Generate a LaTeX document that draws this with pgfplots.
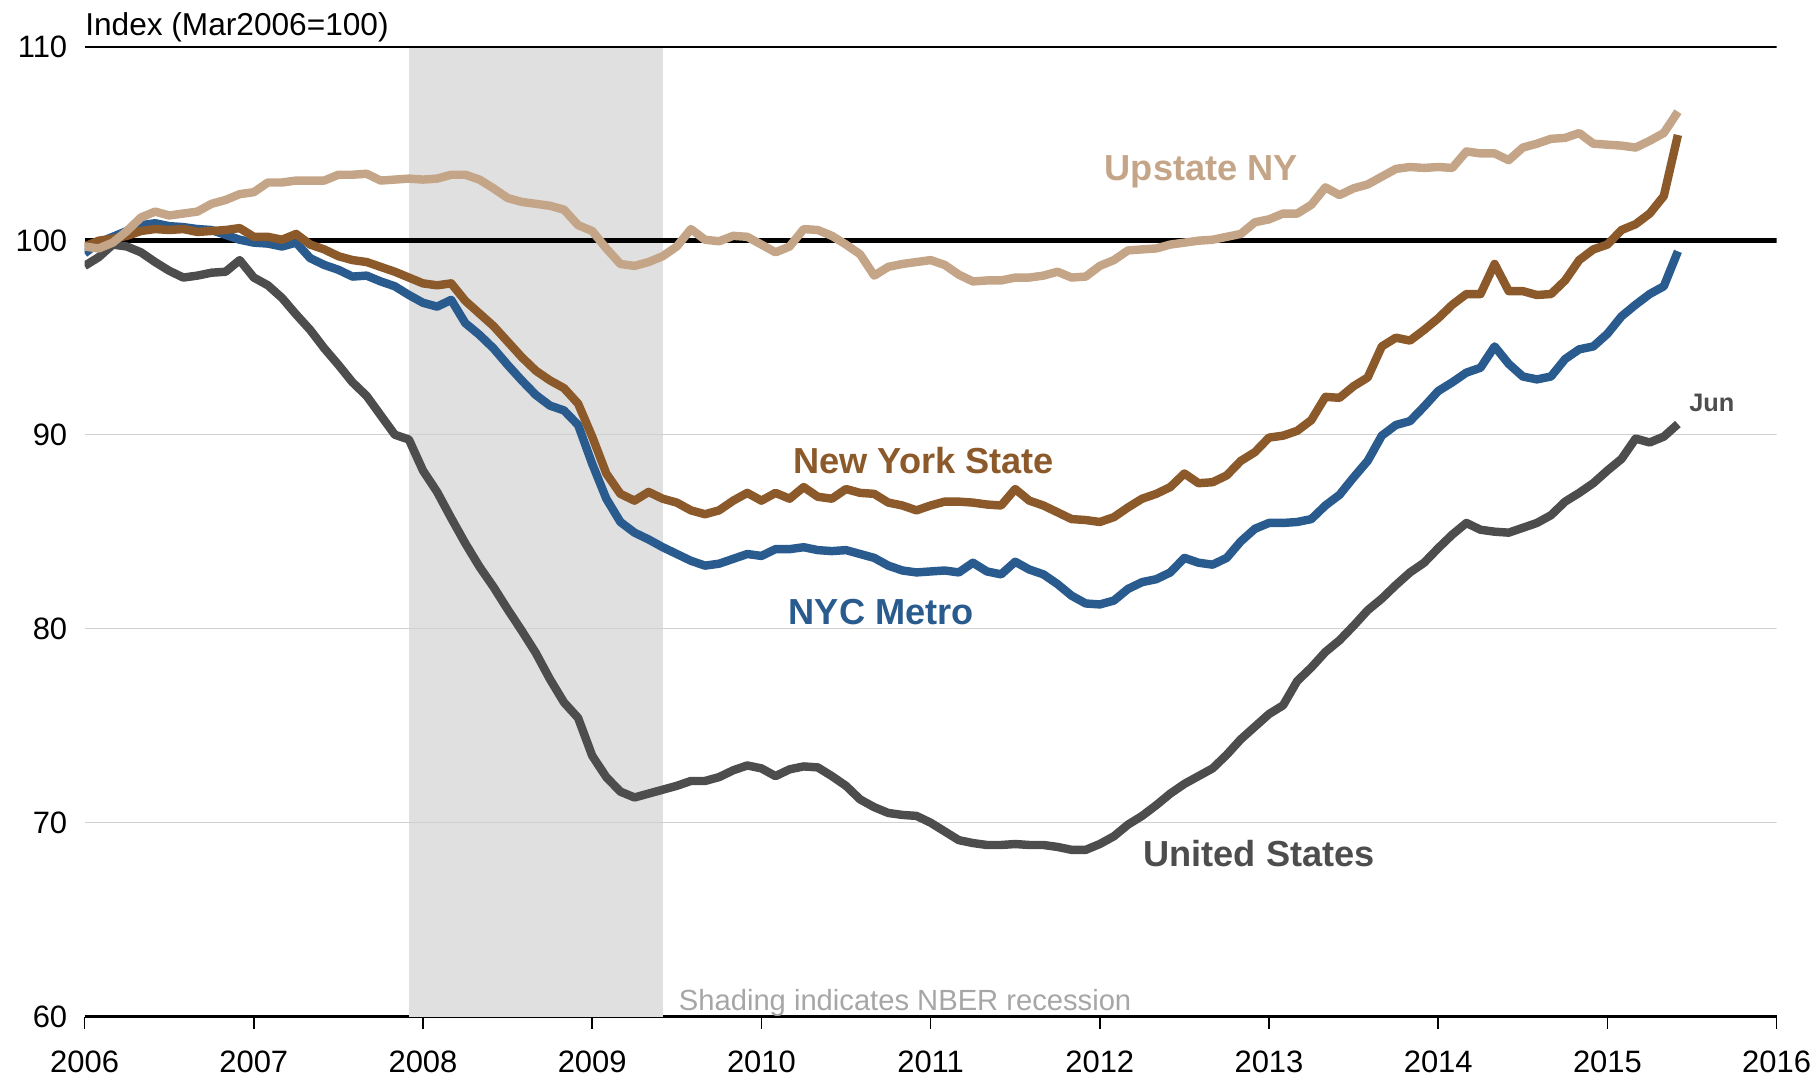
\documentclass[border=0pt]{standalone}
\usepackage{pgfplots}
\pgfplotsset{compat=1.18}
\usepackage{pgfplotstable}
\usepackage{fontspec}
\setmainfont{Liberation Sans}
\definecolor{tanc}{RGB}{196,165,135}
\definecolor{brownc}{RGB}{140,90,42}
\definecolor{bluec}{RGB}{42,91,142}
\definecolor{grayc}{RGB}{77,77,77}
\definecolor{shadec}{RGB}{224,224,224}
\definecolor{shadetext}{RGB}{166,166,166}
\definecolor{gridc}{RGB}{208,208,208}

\pgfplotstableread{
m up nys nyc us
0 99.7 99.7 99.35 98.7
1 99.6 100.0 99.9 99.15
2 99.9 100.1 100.2 99.8
3 100.5 100.25 100.5 99.7
4 101.2 100.5 100.8 99.4
5 101.5 100.6 100.9 98.9
6 101.3 100.55 100.75 98.45
7 101.4 100.6 100.7 98.1
8 101.5 100.45 100.6 98.2
9 101.9 100.5 100.55 98.35
10 102.1 100.55 100.3 98.4
11 102.4 100.65 100.05 99.0
12 102.5 100.2 99.9 98.1
13 103.0 100.2 99.85 97.7
14 103.0 100.05 99.7 97.05
15 103.1 100.35 99.9 96.2
16 103.1 99.8 99.1 95.4
17 103.1 99.55 98.75 94.45
18 103.4 99.2 98.5 93.6
19 103.4 99.0 98.15 92.7
20 103.45 98.9 98.2 92.0
21 103.1 98.65 97.9 91.0
22 103.15 98.4 97.65 90.0
23 103.2 98.1 97.2 89.75
24 103.15 97.8 96.8 88.15
25 103.2 97.7 96.6 87.05
26 103.4 97.8 96.95 85.7
27 103.4 96.9 95.75 84.4
28 103.15 96.25 95.15 83.2
29 102.7 95.6 94.45 82.15
30 102.2 94.8 93.6 81.0
31 102.0 94.0 92.8 79.9
32 101.9 93.3 92.05 78.75
33 101.8 92.8 91.5 77.4
34 101.6 92.4 91.25 76.2
35 100.8 91.6 90.5 75.4
36 100.5 89.9 88.5 73.45
37 99.6 88.0 86.7 72.35
38 98.8 86.95 85.5 71.6
39 98.7 86.6 84.95 71.3
40 98.9 87.05 84.6 71.5
41 99.2 86.7 84.2 71.7
42 99.7 86.5 83.85 71.9
43 100.6 86.1 83.5 72.15
44 100.05 85.9 83.25 72.15
45 99.97 86.1 83.35 72.35
46 100.25 86.6 83.6 72.7
47 100.2 87.0 83.85 72.95
48 99.8 86.6 83.75 72.8
49 99.4 87.0 84.1 72.4
50 99.7 86.7 84.1 72.75
51 100.6 87.3 84.2 72.9
52 100.55 86.8 84.05 72.85
53 100.25 86.7 84.0 72.4
54 99.8 87.2 84.05 71.9
55 99.3 87.0 83.85 71.2
56 98.2 86.95 83.65 70.8
57 98.65 86.5 83.25 70.5
58 98.8 86.35 83.0 70.4
59 98.9 86.1 82.9 70.35
60 99.0 86.35 82.95 70.0
61 98.75 86.55 83.0 69.55
62 98.25 86.55 82.9 69.1
63 97.9 86.5 83.4 68.95
64 97.95 86.4 82.95 68.85
65 97.95 86.35 82.8 68.85
66 98.1 87.2 83.45 68.9
67 98.1 86.6 83.05 68.85
68 98.2 86.35 82.8 68.85
69 98.4 86.0 82.3 68.75
70 98.1 85.65 81.7 68.6
71 98.15 85.6 81.3 68.6
72 98.7 85.5 81.25 68.9
73 99.0 85.75 81.45 69.3
74 99.5 86.25 82.05 69.9
75 99.55 86.7 82.4 70.35
76 99.6 86.95 82.55 70.9
77 99.8 87.3 82.9 71.5
78 99.9 88.0 83.65 72.0
79 100.0 87.5 83.4 72.4
80 100.05 87.55 83.3 72.8
81 100.2 87.9 83.65 73.5
82 100.35 88.65 84.5 74.3
83 100.95 89.1 85.15 74.95
84 101.1 89.85 85.45 75.6
85 101.4 89.95 85.45 76.05
86 101.4 90.2 85.5 77.3
87 101.85 90.75 85.65 78.0
88 102.75 91.95 86.35 78.8
89 102.35 91.9 86.9 79.4
90 102.7 92.5 87.8 80.15
91 102.9 92.95 88.65 80.95
92 103.3 94.55 89.95 81.55
93 103.7 95.0 90.5 82.25
94 103.8 94.85 90.7 82.9
95 103.75 95.4 91.45 83.4
96 103.8 96.0 92.25 84.15
97 103.75 96.7 92.7 84.85
98 104.6 97.25 93.2 85.45
99 104.5 97.25 93.45 85.1
100 104.5 98.8 94.55 85.0
101 104.15 97.4 93.65 84.95
102 104.8 97.4 93.0 85.2
103 105.0 97.2 92.85 85.45
104 105.25 97.25 93.0 85.85
105 105.3 97.95 93.9 86.55
106 105.55 99.0 94.4 87.0
107 105.0 99.55 94.55 87.5
108 104.95 99.8 95.2 88.15
109 104.9 100.55 96.1 88.75
110 104.8 100.85 96.7 89.8
111 105.15 101.4 97.25 89.6
112 105.55 102.3 97.65 89.9
113 106.65 105.45 99.45 90.55
}\data

\begin{document}
\begin{tikzpicture}
\begin{axis}[
  at={(0,0)}, anchor=south west,
  scale only axis, width=16.92cm, height=9.70cm,
  xmin=0, xmax=120, ymin=60, ymax=110,
  xtick={0,12,...,120},
  xticklabels={2006,2007,2008,2009,2010,2011,2012,2013,2014,2015,2016},
  ytick={60,70,80,90,100,110},
  yticklabels={60,70,80,90,100,110},
  axis x line*=bottom, axis y line*=left,
  y axis line style={draw=none},
  x axis line style={black, line width=0.75pt},
  xtick style={black, line width=0.5pt},
  ytick style={draw=none},
  tick align=outside,
  major tick length=0.12cm,
  clip mode=individual,
  /pgf/number format/assume math mode=true,
  ticklabel style={font=\fontsize{8.8}{10}\selectfont},
  yticklabel style={xshift=0.07cm},
  xticklabel style={yshift=-0.1cm},
]
\addplot[fill=shadec, draw=none] coordinates {(23,60) (23,110) (41,110) (41,60)} -- cycle;
\addplot[gridc, line width=0.4pt] coordinates {(0,70) (120,70)};
\addplot[gridc, line width=0.4pt] coordinates {(0,80) (120,80)};
\addplot[gridc, line width=0.4pt] coordinates {(0,90) (120,90)};
\addplot[black, line width=0.6pt] coordinates {(0,110) (120,110)};
\addplot[black, line width=1.4pt] coordinates {(0,100) (120,100)};
\addplot[grayc, line width=2.4pt, line join=round] table[x=m, y=us] {\data};
\addplot[bluec, line width=2.4pt, line join=round] table[x=m, y=nyc] {\data};
\addplot[brownc, line width=2.4pt, line join=round] table[x=m, y=nys] {\data};
\addplot[tanc, line width=2.4pt, line join=round] table[x=m, y=up] {\data};
\node[font=\bfseries\fontsize{10.3}{12}\selectfont, text=tanc] at (axis cs:79.2,103.55) {Upstate NY};
\node[font=\bfseries\fontsize{10.3}{12}\selectfont, text=brownc] at (axis cs:59.5,88.67) {New York State};
\node[font=\bfseries\fontsize{10.3}{12}\selectfont, text=bluec] at (axis cs:56.5,80.85) {NYC Metro};
\node[font=\bfseries\fontsize{10.3}{12}\selectfont, text=grayc] at (axis cs:83.3,68.4) {United States};
\node[font=\bfseries\fontsize{7.2}{9}\selectfont, text=grayc] at (axis cs:115.4,91.66) {Jun};
\node[font=\fontsize{8.3}{10}\selectfont, text=shadetext, anchor=base west, inner sep=0pt] at (axis cs:42.1,60.32) {Shading indicates NBER recession};
\node[font=\fontsize{9}{11}\selectfont, anchor=base west, inner sep=0pt] at (axis cs:0,110.59) {Index (Mar2006=100)};
\end{axis}
\pgfresetboundingbox
\path (-0.846cm,-0.583cm) rectangle (17.334cm,10.167cm);
\end{tikzpicture}
\end{document}
